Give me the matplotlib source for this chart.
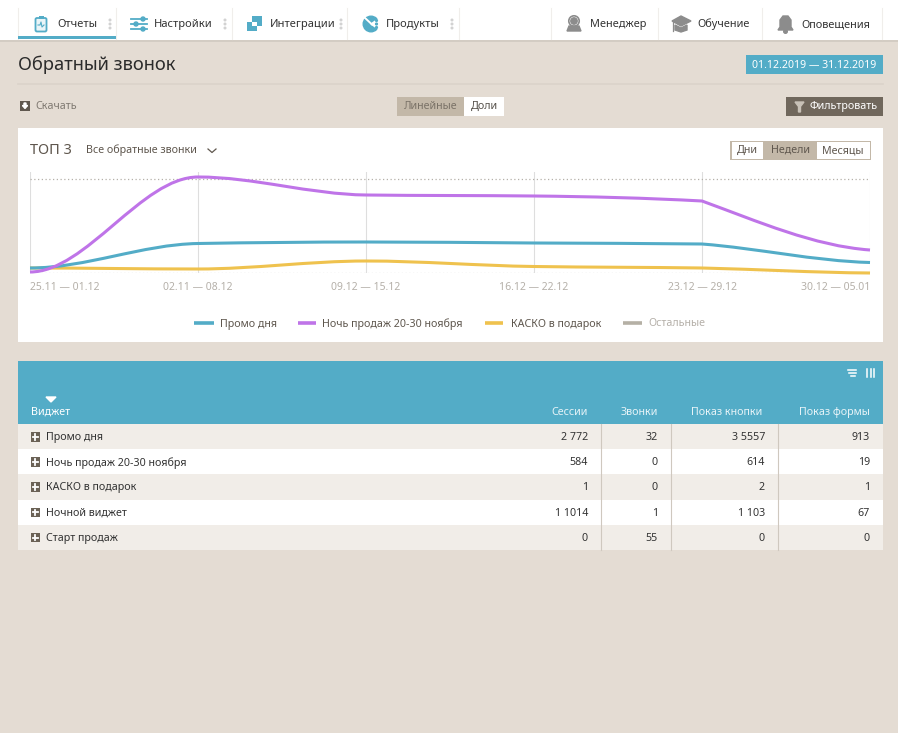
import matplotlib
matplotlib.use("Agg")
import matplotlib.pyplot as plt
from matplotlib.patches import Rectangle, Circle, Polygon, PathPatch, FancyBboxPatch, Wedge
from matplotlib.path import Path

plt.rcParams["font.family"] = ["Noto Sans", "DejaVu Sans"]

# chart data
weeks = ["25.11 — 01.12", "02.11 — 08.12", "09.12 — 15.12", "16.12 — 22.12", "23.12 — 29.12", "30.12 — 05.01"]
promo = [5, 29.5, 31, 30, 29, 10.5]
night = [1, 96, 78, 77, 72, 23]
kasko = [5, 4, 12, 6.5, 5, 0]

# table data
table_cols = ["Сессии", "Звонки", "Показ кнопки", "Показ формы"]
table_names = ["Промо дня", "Ночь продаж 20-30 ноября", "КАСКО в подарок", "Ночной виджет", "Старт продаж"]
sessions = ["2 772", "584", "1", "1 1014", "0"]
calls = ["32", "0", "0", "1", "55"]
button_views = ["3 5557", "614", "2", "1 103", "0"]
form_views = ["913", "19", "1", "67", "0"]

nav_left = ["Отчеты", "Настройки", "Интеграции", "Продукты"]
nav_right = ["Менеджер", "Обучение", "Оповещения"]

BG = "#e4dcd3"
BLUE = "#53acc7"
TAN = "#c3b8a8"
DARK = "#70675c"
INK = "#333333"
PURPLE = "#bf74e8"
YELLOW = "#efc24e"
GREY_ICON = "#8c8c8c"

fig = plt.figure(figsize=(8.98, 7.33), dpi=100, facecolor=BG)
ui = fig.add_axes([0, 0, 1, 1])
ui.set_xlim(0, 898)
ui.set_ylim(733, 0)
ui.axis("off")


def box(x0, y0, x1, y1, color, z=1, **kw):
    ui.add_patch(Rectangle((x0, y0), x1 - x0, y1 - y0, facecolor=color, edgecolor="none", zorder=z, **kw))


def label(x, y, s, size=7.7, color=INK, ha="left", z=5):
    ui.text(x, y + 1, s, fontsize=size, color=color, ha=ha, va="center", zorder=z)


# top bar
box(0, 0, 898, 40, "white")
box(0, 40, 898, 42, "#d3ccc3")
box(18, 36, 116, 39, BLUE, z=3)
for x in [18, 116, 232, 347, 459, 551, 658, 762, 882]:
    ui.plot([x, x], [8, 39], color="#f0eeeb", lw=0.8, zorder=2)
for x in [110, 225, 341, 452]:
    for y in [20, 24, 28]:
        ui.add_patch(Circle((x, y), 0.8, color="#d2d2d2", zorder=3))
for x, s in zip([57, 154, 270, 386], nav_left):
    label(x, 23.5, s, size=8)
for x, s in zip([590, 697, 801], nav_right):
    label(x, 23.5, s, size=7.9)

# nav icons
ui.add_patch(FancyBboxPatch((35.5, 18), 11, 13.5, boxstyle="round,pad=0,rounding_size=1.5", fc="#eaf5f8", ec=BLUE, lw=1.3, zorder=3))
box(38.5, 15.5, 43.5, 19, BLUE, z=4)
ui.plot([38, 40, 41, 42, 44], [25, 25, 22, 27, 25], color=BLUE, lw=0.8, zorder=4)
for y, cx in zip([19, 24, 29], [143, 136, 143]):
    ui.plot([131, 147], [y, y], color=BLUE, lw=1.3, zorder=3)
    ui.add_patch(Circle((cx, y), 2.0, color=BLUE, zorder=4))
box(247, 22, 257, 31, BLUE, z=3)
box(252, 16, 262, 26, BLUE, z=3)
box(252, 22, 257, 26, "white", z=4)
ui.add_patch(Circle((371, 24), 7.8, color=BLUE, zorder=3))
ui.plot([364, 372], [17, 24.5], color="white", lw=1.4, zorder=4)
ui.add_patch(Wedge((371, 24), 9, -35, 35, color="white", zorder=4))
for y in [20.5, 24, 27.5]:
    ui.add_patch(Circle((376.5, y), 0.9, color=BLUE, zorder=5))
ui.add_patch(Circle((574, 21), 5.2, fc="none", ec=GREY_ICON, lw=1.2, zorder=3))
ui.add_patch(Circle((574, 21), 3.2, color=GREY_ICON, zorder=3))
ui.add_patch(Polygon([[567, 31], [569, 26], [579, 26], [581, 31]], color=GREY_ICON, zorder=3))
ui.add_patch(Polygon([[672, 21], [681, 16], [691, 21], [681, 26]], color=GREY_ICON, zorder=3))
ui.add_patch(Polygon([[675, 25], [681, 28], [687, 25], [687, 30], [681, 32], [675, 30]], color=GREY_ICON, zorder=3))
ui.plot([673, 673], [22, 31], color=GREY_ICON, lw=0.9, zorder=3)
ui.add_patch(Polygon([[778, 30], [780, 27], [780, 20], [783, 16], [788, 16], [791, 20], [791, 27], [793, 30]], color=GREY_ICON, zorder=3))
ui.add_patch(Circle((785.5, 31.5), 1.8, color=GREY_ICON, zorder=3))

# title row
label(18, 63.5, "Обратный звонок", size=13.2, color="#2b2b2b")
ui.plot([18, 883], [83.5, 83.5], color="#dbd3ca", lw=1.2, zorder=2)
box(746, 55, 883, 74, BLUE)
label(814.5, 64, "01.12.2019 — 31.12.2019", size=7.6, color="white", ha="center")

# controls row
box(20, 101, 30, 111, "#5f574e")
ui.add_patch(Polygon([[24, 103], [26, 103], [26, 105.5], [27.5, 105.5], [25, 108.5], [22.5, 105.5], [24, 105.5]], color="white", zorder=3))
label(35, 105.5, "Скачать", size=7.7, color="#807a72")
box(397, 97, 464, 116, TAN)
label(430.5, 105.5, "Линейные", size=7.7, color="#7a7267", ha="center")
box(464, 97, 504, 116, "white")
label(484, 105.5, "Доли", size=7.7, color="#55504a", ha="center")
box(786, 97, 883, 116, DARK)
ui.add_patch(Polygon([[795, 102], [804, 102], [800.5, 106.5], [800.5, 112], [798.5, 112], [798.5, 106.5]], color="#c8c1b7", zorder=3))
label(809, 105.5, "Фильтровать", size=7.7, color="white")

# chart card
box(18, 128, 883, 342, "white")
label(30, 149, "ТОП 3", size=10.5, color="#5f574e")
label(86, 149.5, "Все обратные звонки", size=7.7, color="#5f574e")
ui.plot([208, 212, 216], [149, 152.5, 149], color="#5f574e", lw=0.9, zorder=4)
box(730, 141, 871, 160, TAN, z=2)
box(732, 142, 763, 159, "white", z=3)
box(817, 142, 870, 159, "white", z=3)
label(747, 149.5, "Дни", size=7.7, color="#5f574e", ha="center")
label(790, 149.5, "Недели", size=7.7, color="#5f574e", ha="center")
label(843, 149.5, "Месяцы", size=7.7, color="#5f574e", ha="center")

# line chart, in its own axes
W, H = 898.0, 733.0
chart = fig.add_axes([30 / W, 1 - 273 / H, 840 / W, 101 / H], facecolor="none")
chart.set_xlim(0, len(weeks) - 1)
chart.set_ylim(0, 101)
for side in chart.spines.values():
    side.set_visible(False)
positions = list(range(len(weeks)))
chart.set_xticks(positions)
chart.set_xticklabels(weeks, fontsize=7.5, color="#b5b0a9")
chart.get_xticklabels()[0].set_ha("left")
chart.get_xticklabels()[-1].set_ha("right")
chart.tick_params(axis="x", length=0, pad=6.5)
chart.set_yticks([])
chart.xaxis.grid(True, color="#dedede", lw=0.8)
chart.set_axisbelow(True)
chart.axhline(94, color="#b5b0a9", lw=0.9, ls=(0, (1, 2)), zorder=1)
chart.axhline(0, color="#c9c9c9", lw=0.9, ls=(0, (1, 2)), zorder=1)


def smooth_path(values, leave_last):
    # cubic segments: flat at turning points, last segment leaves at its own slope
    n = len(values)
    slopes = [0.0] * n
    for i in range(1, n - 1):
        a = values[i] - values[i - 1]
        b = values[i + 1] - values[i]
        if a * b > 0:
            slopes[i] = 2 * a * b / (a + b)
    slopes[-1] = (values[-1] - values[-2]) * 0.25
    verts = [(0, values[0])]
    codes = [Path.MOVETO]
    for i in range(n - 1):
        leave = slopes[i]
        if i == n - 2:
            leave = (values[-1] - values[-2]) * leave_last
        verts += [(i + 1 / 3, values[i] + leave / 3),
                  (i + 2 / 3, values[i + 1] - slopes[i + 1] / 3),
                  (i + 1, values[i + 1])]
        codes += [Path.CURVE4] * 3
    return Path(verts, codes)


for series, color, leave_last in [(kasko, YELLOW, 0.8), (promo, BLUE, 0.7), (night, PURPLE, 1.25)]:
    chart.add_patch(PathPatch(smooth_path(series, leave_last), fc="none", ec=color, lw=2.2, clip_on=False, zorder=3))

# legend
legend_items = [("Промо дня", BLUE, 194, 214, 220, "#5f574e"),
                ("Ночь продаж 20-30 ноября", PURPLE, 298, 316, 322, "#5f574e"),
                ("КАСКО в подарок", YELLOW, 485, 503, 511, "#5f574e"),
                ("Остальные", "#b5b0a5", 623, 642, 648, "#b5b0a9")]
for name, color, x0, x1, tx, tc in legend_items:
    ui.plot([x0, x1], [323, 323], color=color, lw=2.6, solid_capstyle="butt", zorder=4)
    label(tx, 323, name, color=tc)

# table header
box(18, 361, 883, 424, BLUE)
ui.add_patch(Polygon([[46, 397], [56, 397], [51, 402]], color="white", zorder=3))
label(31, 411.5, "Виджет", color="white")
for x, s in zip([588, 658, 762, 870], table_cols):
    label(x, 411.5, s, color="#e6f3f7", ha="right")
for y, x0, x1 in [(370, 848, 856), (373, 849, 855.5), (376, 851, 855)]:
    ui.plot([x0, x1], [y, y], color="white", lw=1.1, zorder=3)
for x in [867, 870.5, 874]:
    ui.plot([x, x], [369, 377], color="white", lw=1.1, zorder=3)

# table rows
for i, name in enumerate(table_names):
    top = 424 + 25.2 * i
    mid = top + 13
    box(18, top, 883, top + 25.2, "#f1ede8" if i % 2 == 0 else "white")
    box(30.5, mid - 5, 40, mid + 4.5, "#6b6256", z=3)
    ui.plot([32.5, 38], [mid - 0.3, mid - 0.3], color="white", lw=1.3, zorder=4)
    ui.plot([35.25, 35.25], [mid - 3, mid + 2.5], color="white", lw=1.3, zorder=4)
    label(46, mid - 0.5, name, color=INK)
    for x, col in zip([588, 658, 765, 870], [sessions, calls, button_views, form_views]):
        label(x, mid - 0.5, col[i], color=INK, ha="right")
for x in [601, 671, 778]:
    ui.plot([x, x], [424, 550], color="#cfc8bf", lw=0.8, zorder=3)

fig.savefig("out.png", dpi=100, facecolor=BG)
